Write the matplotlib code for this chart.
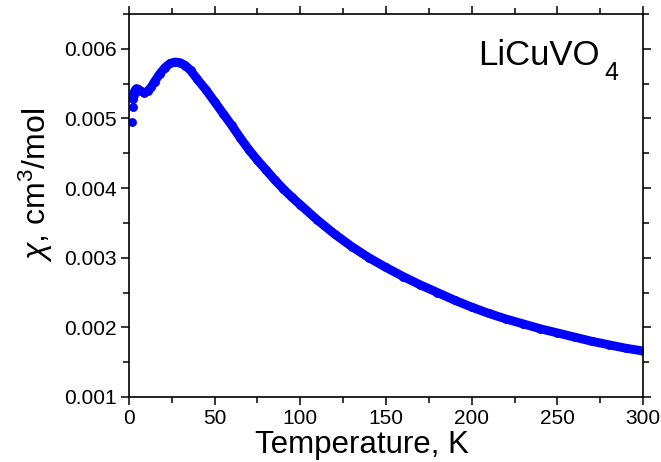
import matplotlib
matplotlib.use("Agg")
import matplotlib.pyplot as plt
from matplotlib.ticker import MultipleLocator

plt.rcParams['font.family'] = ['Liberation Sans', 'DejaVu Sans']
plt.rcParams['mathtext.fontset'] = 'custom'
plt.rcParams['mathtext.rm'] = 'Liberation Sans'
plt.rcParams['mathtext.it'] = 'Liberation Sans:italic'

# Temperature (K) and susceptibility chi (cm^3/mol)
temperature = [1.9, 2.2, 2.5, 2.8, 3.2, 3.7, 4.5, 5.5, 7, 9, 11, 13, 15, 18, 21, 24, 27,
               30, 33, 36, 40, 45, 50, 55, 60, 65, 70, 75, 80, 85, 90, 95, 100,
               110, 120, 130, 140, 150, 160, 170, 180, 190, 200, 210, 220, 230,
               240, 250, 260, 270, 280, 290, 300]
chi = [0.00495, 0.00517, 0.00528, 0.00534, 0.00538, 0.00541, 0.00543, 0.00542,
       0.00539, 0.00537, 0.00539, 0.00545, 0.00553, 0.00564, 0.00573, 0.00579,
       0.00581, 0.00580, 0.00576, 0.00569, 0.00556, 0.00541, 0.00524, 0.00507,
       0.00490, 0.00472, 0.00455, 0.00440, 0.00426, 0.00412, 0.00399, 0.00387,
       0.00376, 0.00354, 0.00334, 0.00316, 0.00300, 0.00286, 0.00273, 0.00261,
       0.00250, 0.00239, 0.00229, 0.00220, 0.00212, 0.00205, 0.00198, 0.00192,
       0.00186, 0.00180, 0.00175, 0.00170, 0.00166]
ytick_values = [0.001, 0.002, 0.003, 0.004, 0.005, 0.006]
ytick_labels = ['0.001', '0.002', '0.003', '0.004', '0.005', '0.006']

fig = plt.figure(figsize=(6.61, 4.62), dpi=100)
ax = fig.add_axes([0.195, 0.1407, 0.778, 0.829])

blue = '#0000ff'
# dense measured part drawn as a thick line of points
ax.plot(temperature[2:], chi[2:], '-', color=blue, lw=6.4, solid_capstyle='round',
        solid_joinstyle='round')
ax.plot(temperature, chi, 'o', color=blue, ms=6.4, mec=blue, mew=0)

ax.set_xlim(0, 300)
ax.set_ylim(0.001, 0.0065)
ax.xaxis.set_major_locator(MultipleLocator(50))
ax.xaxis.set_minor_locator(MultipleLocator(25))
ax.yaxis.set_minor_locator(MultipleLocator(0.0005))
ax.set_yticks(ytick_values)
ax.set_yticklabels(ytick_labels)

ax.tick_params(which='both', direction='out', top=True, right=True,
               labeltop=False, labelright=False, width=1.1, labelsize=15, pad=3)
ax.tick_params(which='major', length=6)
ax.tick_params(which='minor', length=4)
for s in ax.spines.values():
    s.set_linewidth(1.2)

ax.set_xlabel('Temperature, K', fontsize=22.5, labelpad=1)
ax.xaxis.label.set_x(0.453)
ax.set_ylabel(r'$\chi$, cm$^{3}$/mol', fontsize=23, labelpad=6)
ax.yaxis.label.set_y(0.554)
ax.text(0.916, 0.867, 'LiCuVO', transform=ax.transAxes, fontsize=25,
        ha='right', va='baseline')
ax.text(0.924, 0.828, '4', transform=ax.transAxes, fontsize=18,
        ha='left', va='baseline')

fig.savefig('out.png', dpi=100)
